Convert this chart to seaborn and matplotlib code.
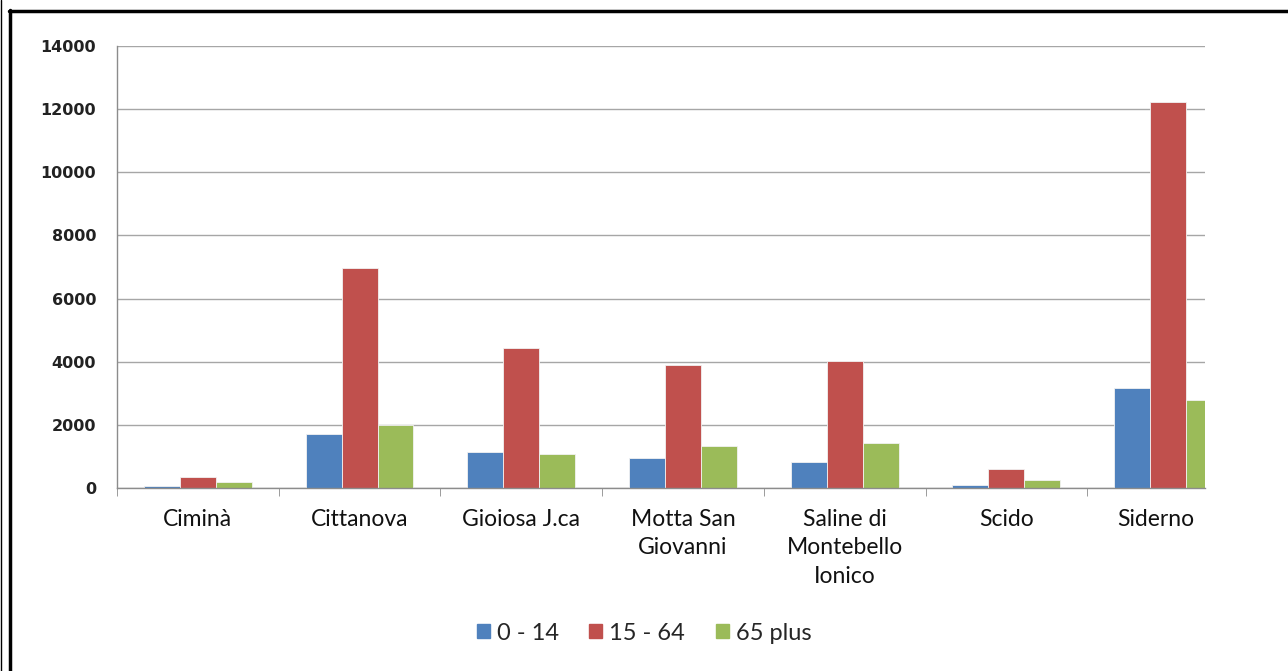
import pandas as pd
import seaborn as sns
import matplotlib.pyplot as plt
from matplotlib.lines import Line2D
import matplotlib.transforms as mtransforms

# comuni e fasce d'eta
comuni = ["Ciminà", "Cittanova", "Gioiosa J.ca", "Motta San\nGiovanni",
          "Saline di\nMontebello\nIonico", "Scido", "Siderno"]
fasce = ["0 - 14", "15 - 64", "65 plus"]
eta_0_14 = [70, 1700, 1140, 940, 815, 85, 3160]
eta_15_64 = [360, 6970, 4430, 3895, 4010, 600, 12220]
eta_65_plus = [190, 2000, 1090, 1330, 1415, 245, 2800]
colori = ["#4F81BD", "#C0504D", "#9BBB59"]

sns.set_style("white")
plt.rcParams['font.family'] = ['Lato', 'DejaVu Sans']

rows = []
for i, c in enumerate(comuni):
    for f, vals in zip(fasce, [eta_0_14, eta_15_64, eta_65_plus]):
        rows.append({"comune": c, "fascia": f, "valore": vals[i]})
df = pd.DataFrame(rows)

fig = plt.figure(figsize=(12.88, 6.71), dpi=100)
ax = fig.add_axes([117/1288, 1 - 488/671, (1205-117)/1288, (488-46)/671])

sns.barplot(data=df, x="comune", y="valore", hue="fascia", palette=colori,
            saturation=1, width=0.667, gap=0, edgecolor="#F2F2F2",
            linewidth=0.6, ax=ax)

ax.set_yticks(range(0, 14001, 2000))
ax.set_xlabel("")
ax.set_ylabel("")
ax.yaxis.grid(True, color="#A6A6A6", linewidth=1)
ax.set_axisbelow(True)

# tick marks between groups, like excel
ax.set_xticks([i - 0.5 for i in range(len(comuni) + 1)], minor=True)

# the plot area in the original is cut on the right (Siderno partly hidden)
ax.set_ylim(0, 14000)
ax.set_xlim(-0.5, -0.5 + (1205 - 117) / 161.7)

for s in ["top", "right"]:
    ax.spines[s].set_visible(False)
for s in ["left", "bottom"]:
    ax.spines[s].set_color("#8C8C8C")
    ax.spines[s].set_linewidth(1)

ax.tick_params(axis="y", length=5, color="#8C8C8C", labelsize=11.5, pad=10)
for lab in ax.get_yticklabels():
    lab.set_fontweight("bold")
    lab.set_family(["DejaVu Sans"])
    lab.set_color("#222222")

ax.tick_params(axis="x", which="minor", length=5.5, color="#8C8C8C", bottom=True)
ax.tick_params(axis="x", which="major", length=0, labelsize=16.5, pad=15)
xlabs = ax.get_xticklabels()
for lab in xlabs:
    lab.set_linespacing(1.45)
    lab.set_verticalalignment("top")
    lab.set_color("#111111")
xlabs[-1].set_transform(xlabs[-1].get_transform() +
                        mtransforms.ScaledTranslation(-12/100, 0, fig.dpi_scale_trans))

handles = [plt.Rectangle((0, 0), 1, 1, color=c) for c in colori]
ax.legend(handles, fasce, loc="center", bbox_to_anchor=(0.5, 1 - 633/671),
          bbox_transform=fig.transFigure, ncol=3, frameon=False, fontsize=17,
          handlelength=0.55, handleheight=0.55, handletextpad=0.3, columnspacing=1.3)

# cornice della pagina
fig.add_artist(Line2D([9/1288, 1], [1 - 11/671, 1 - 11/671], color="black", linewidth=2.5))
fig.add_artist(Line2D([10/1288, 10/1288], [0, 1 - 10/671], color="black", linewidth=2.5))
fig.add_artist(Line2D([0.5/1288, 0.5/1288], [0, 1], color="black", linewidth=1))

fig.savefig("out.png", dpi=100)
